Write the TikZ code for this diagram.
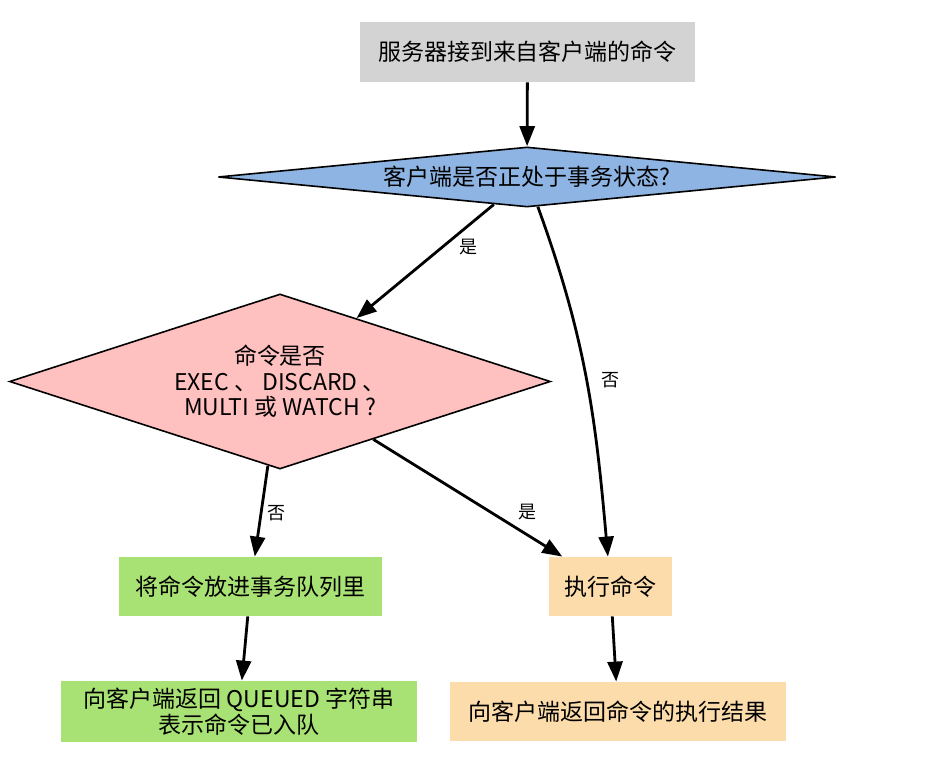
\documentclass[tikz,border=0pt]{standalone}
\usepackage{fontspec}
\setmainfont{Noto Sans CJK SC}
\usetikzlibrary{shapes.geometric,arrows.meta}
\definecolor{boxgray}{RGB}{211,211,211}
\definecolor{askblue}{RGB}{141,180,226}
\definecolor{askpink}{RGB}{255,192,192}
\definecolor{queuegreen}{RGB}{169,226,116}
\definecolor{execorange}{RGB}{251,220,170}
\begin{document}
\begin{tikzpicture}[x=0.5pt,y=-0.5pt,
  stepbox/.style={inner sep=0pt,align=center,font=\fontsize{11.5}{13}\selectfont},
  askbox/.style={shape=diamond,draw,line width=0.8pt,inner sep=0pt,align=center,font=\fontsize{11.5}{12.75}\selectfont},
  flow/.style={line width=1.4pt,-{Triangle[length=10pt,width=7.5pt]}},
  answer/.style={font=\fontsize{9}{9}\selectfont}]
\useasboundingbox (0,0) rectangle (928,769);
\node[stepbox,fill=boxgray,minimum width=167.5pt,minimum height=30pt] (recv) at (527.5,52) {服务器接到来自客户端的命令};
\node[askbox,fill=askblue,shape aspect=10.3,minimum width=309pt,minimum height=30pt] (intx) at (527,177) {客户端是否正处于事务状态?};
\node[askbox,fill=askpink,shape aspect=3.09,minimum width=270.5pt,minimum height=87.5pt] (iscmd) at (280,381.5) {命令是否\\EXEC 、 DISCARD 、\\MULTI 或 WATCH ?};
\node[stepbox,fill=queuegreen,minimum width=131.5pt,minimum height=29.5pt] (enq) at (250.5,586.5) {将命令放进事务队列里};
\node[stepbox,fill=execorange,minimum width=61.5pt,minimum height=29.5pt] (exec) at (610.5,586.5) {执行命令};
\node[stepbox,fill=queuegreen,minimum width=178pt,minimum height=30.5pt] (queued) at (239,711.5) {向客户端返回 QUEUED 字符串\\表示命令已入队};
\node[stepbox,fill=execorange,minimum width=168pt,minimum height=29.5pt] (result) at (618,711.5) {向客户端返回命令的执行结果};
\draw[flow] (recv) -- (intx);
\draw[flow] (intx) -- (iscmd);
\draw[flow] (intx) to[out=-70,in=95] (exec);
\draw[flow] (iscmd) -- (enq);
\draw[flow] (iscmd) -- (exec);
\draw[flow] (enq) -- (queued);
\draw[flow] (exec) -- (result);
\node[answer] (yes1) at (468,247) {是};
\node[answer] (no1) at (610,380) {否};
\node[answer] (no2) at (276,513) {否};
\node[answer] (yes2) at (527,512) {是};
\end{tikzpicture}
\end{document}
